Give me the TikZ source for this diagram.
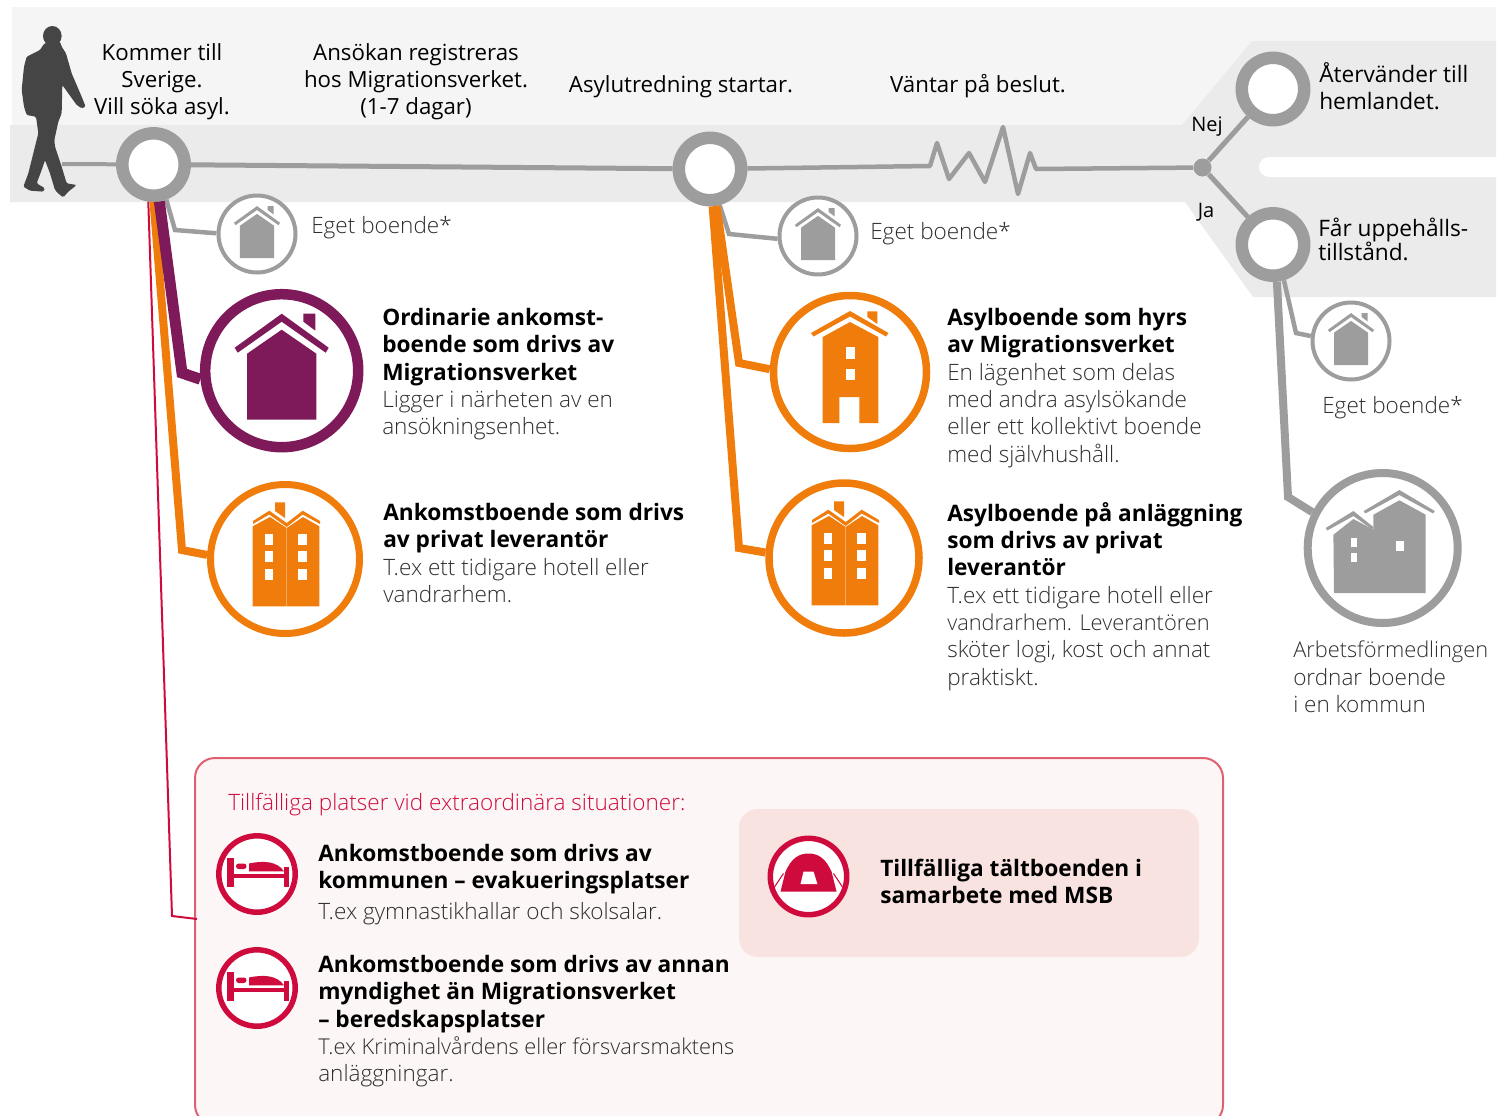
\documentclass[tikz,border=0pt]{standalone}
\usepackage{fontspec}
\setmainfont{Open Sans}
\newfontfamily\thinfont{Open Sans Light}
\usepackage{xcolor}
\definecolor{paleband}{HTML}{F5F5F5}
\definecolor{midband}{HTML}{EBEBEB}
\definecolor{linegray}{HTML}{9D9D9D}
\definecolor{mauve}{HTML}{7E1A5A}
\definecolor{tangerine}{HTML}{F07D0B}
\definecolor{alarmred}{HTML}{CF0A3C}
\definecolor{boxedge}{HTML}{E0606F}
\definecolor{boxfill}{HTML}{FDF6F6}
\definecolor{tentfill}{HTML}{F8E3E1}
\definecolor{walker}{HTML}{454545}
\newcommand{\headline}[1]{{\color{black}\normalfont\bfseries\fontsize{17}{20.5}\selectfont #1}}
\newcommand{\tightline}[1]{{\fontsize{16.35}{20.5}\selectfont #1}}
\tikzset{
  ring/.style n args={3}{circle,draw=#1,fill=white,inner sep=0pt,line width=#2*0.75pt,minimum size=#3*1.5pt},
  feed/.style n args={2}{draw=#1,line width=#2*0.75pt,line join=miter},
  steptext/.style={inner sep=0pt,align=center,text=black,font=\fontsize{16.7}{20.5}\selectfont,execute at begin node=\strut},
  leftstep/.style={steptext,align=left,anchor=north west,font=\fontsize{17}{20.5}\selectfont},
  bodytext/.style={inner sep=0pt,align=left,anchor=north west,text=black!82,font=\fontsize{16.9}{20.5}\selectfont\thinfont,execute at begin node=\strut},
  pics/houseicon/.style={code={
    \fill[#1] (-34.7,49) -- (-34.7,-17) -- (0,-41) -- (34.7,-17) -- (34.7,49) -- cycle;
    \fill[#1] (-47,-23) -- (0,-57) -- (47,-23) -- (44,-18) -- (0,-49) -- (-44,-18) -- cycle;
    \fill[#1] (21.7,-57) -- (33.7,-57) -- (33.7,-40) -- (21.7,-49) -- cycle;
  }},
  pics/towericon/.style={code={
    \fill[#1] (-27.3,51) -- (-27.3,-35) -- (0,-50) -- (28.3,-35) -- (28.3,51) -- (9.3,51) -- (9.3,25) -- (-10.7,25) -- (-10.7,51) -- cycle;
    \fill[#1] (-39,-39) -- (0,-61) -- (38.5,-39) -- (36,-35.5) -- (0,-55.5) -- (-36.5,-35.5) -- cycle;
    \fill[#1] (17.3,-60.7) -- (27.3,-60.7) -- (27.3,-48) -- (17.3,-55) -- cycle;
    \fill[white] (-4,-25) rectangle (4.7,-13.3);
    \fill[white] (-4,-3.3) rectangle (4.7,8.3);
  }},
  pics/twinicon/.style={code={
    \fill[#1] (-32.3,47.3) -- (-32.3,-32.7) -- (-15,-42) -- (1.7,-31) -- (18,-42) -- (34.3,-32.7) -- (34.3,47.3) -- cycle;
    \fill[#1] (-32,-38) -- (-15.7,-48.3) -- (1.7,-36) -- (17.7,-48.3) -- (35,-38) -- (35,-35) -- (17.7,-44.5) -- (1.7,-32) -- (-15.7,-44.5) -- (-32,-35) -- cycle;
    \fill[#1] (-10,-56.7) -- (0,-56.7) -- (0,-41) -- (-10,-48) -- cycle;
    \draw[white,opacity=0.35,line width=0.4pt] (1.7,-31) -- (1.7,47.3);
    \foreach \wy in {-25,-7.7,9.7}{
      \fill[white] (-20,\wy) rectangle (-11.7,\wy+11);
      \fill[white] (13.3,\wy) rectangle (21.7,\wy+11);
    }
  }},
  pics/blockicon/.style={code={
    \fill[#1] (-48.7,45) -- (-49.3,-13.3) -- (-29.3,-29) -- (-9.3,-18.3) -- (-9.3,-33.3) -- (16.7,-47.7) -- (43,-33.3) -- (43,45) -- cycle;
    \fill[#1] (-57,-20) -- (-29.3,-37) -- (-9.3,-21) -- (-10.5,-18.5) -- (-29.3,-32) -- (-55.5,-17.5) -- cycle;
    \fill[#1] (-19,-37) -- (16.7,-58) -- (52,-37) -- (50.5,-34.5) -- (16.7,-53) -- (-17.5,-34.5) -- cycle;
    \fill[white] (-31.7,-10.3) rectangle (-25.3,-1);
    \fill[white] (-31.7,5) rectangle (-25.3,14);
    \fill[white] (13,-7.3) rectangle (21,3.3);
  }},
  pics/bedicon/.style={code={
    \fill[#1] (-30,-16) rectangle (-23.3,13.3);
    \fill[#1] (27.3,-6.7) rectangle (31.7,13.3);
    \fill[#1] (-23.3,-0.5) rectangle (27.3,4);
    \fill[#1] (-8,-2.7) -- (-8,-10.5) .. controls (6,-13.5) and (20,-13) .. (27,-2.7) -- cycle;
    \fill[#1,rounded corners=2pt] (-21,-10.5) rectangle (-10.5,-5);
  }},
  pics/tenticon/.style={code={
    \fill[#1] (-28,15) -- (-23,-5) .. controls (-17,-18) and (-10,-23) .. (0,-23) .. controls (10,-23) and (17,-18) .. (23,-5) -- (28,15) -- cycle;
    \fill[white] (-8,7.7) -- (-5,-5) -- (5,-5) -- (9,7.7) -- cycle;
    \draw[#1,line width=0.8pt] (-35,12) -- (-25,-3);
    \draw[#1,line width=0.8pt] (35,12) -- (25,-3);
  }}
}
\begin{document}
\begin{tikzpicture}[line cap=butt,line join=round,x=0.75pt,y=-0.75pt]
  \useasboundingbox (0,0) rectangle (1506,1115);
  \clip (0,0) rectangle (1506,1115);
  % bands
  \fill[paleband] (12,7) rectangle (1496,125);
  \fill[midband] (10,125) -- (1182,125) -- (1252,41) -- (1496,41) -- (1496,297) -- (1253,297) -- (1185,202) -- (10,202) -- cycle;
  \fill[white,rounded corners=7.5pt] (1259,157) rectangle (1530,177);
  % walker
  \begin{scope}[scale=1/3]
    \fill[walker] (157,108) ellipse (28 and 30);
    \fill[walker,rounded corners=1pt] (133,130) -- (120,150) -- (80,170) -- (72,200) -- (65,270) -- (72,320) -- (80,345) -- (108,350) -- (115,400) -- (100,460) -- (85,520) -- (70,560) -- (90,572) -- (130,575) -- (135,565) -- (110,550) -- (125,510) -- (135,480) -- (150,520) -- (165,570) -- (180,585) -- (190,592) -- (205,575) -- (230,555) -- (200,550) -- (185,500) -- (165,440) -- (163,420) -- (175,365) -- (185,340) -- (187,255) -- (230,315) -- (245,325) -- (257,320) -- (245,290) -- (215,220) -- (198,160) -- (185,140) -- (180,125) -- cycle;
  \end{scope}
  % rings on the line
  \node[ring={linegray}{12.5}{31.2}] (arrive) at (153.5,164.5) {};
  \node[ring={linegray}{12.5}{31.2}] (inquiry) at (710,169) {};
  \node[ring={linegray}{12.5}{31.2}] (refused) at (1273,89) {};
  \node[ring={linegray}{12.5}{31.2}] (granted) at (1273,244.5) {};
  \node[circle,fill=linegray,inner sep=0pt,minimum size=13.5pt] (split) at (1202.5,167.5) {};
  \coordinate (walkerhip) at (62,164);
  \coordinate (zigstart) at (930,166);
  \coordinate (zigend) at (1036,169);
  \draw[feed={linegray}{4}] (walkerhip) -- (arrive);
  \draw[feed={linegray}{5}] (arrive) -- (inquiry);
  \draw[feed={linegray}{4.5},line join=round] (inquiry) -- (zigstart) -- (937,143) -- (949,179) -- (969,153) -- (985,182) -- (1003,127) -- (1018,194) -- (1030,153) -- (zigend) -- (split);
  \draw[feed={linegray}{5}] (split) -- (refused);
  \draw[feed={linegray}{5}] (split) -- (granted);
  % own housing
  \node[ring={linegray}{4}{38.5}] (ownone) at (257,234) {};
  \node[ring={linegray}{4}{38.5}] (owntwo) at (818,236) {};
  \node[ring={linegray}{4}{38.5}] (ownthree) at (1351,341) {};
  \foreach \home in {ownone,owntwo,ownthree}
    \pic[scale=0.49] at (\home) {houseicon=linegray};
  \coordinate (ownonebend) at (175,230);
  \coordinate (owntwobend) at (729,234);
  \coordinate (ownthreebend) at (1296,333);
  \draw[feed={linegray}{4.5}] (arrive.-70) -- (ownonebend) -- (ownone.179);
  \draw[feed={linegray}{4.5}] (inquiry.-75) -- (owntwobend) -- (owntwo.184);
  \draw[feed={linegray}{4.5}] (granted.-73) -- (ownthreebend) -- (ownthree.173);
  % big rings
  \node[ring={mauve}{10.5}{76.5}] (ordinary) at (281.7,370.7) {};
  \node[ring={tangerine}{7}{74.5}] (private) at (285,559) {};
  \node[ring={tangerine}{7.5}{76.5}] (rented) at (850,372) {};
  \node[ring={tangerine}{7.5}{75}] (facility) at (844,558) {};
  \node[ring={linegray}{8}{75}] (municipal) at (1382.7,548) {};
  \pic at (ordinary) {houseicon=mauve};
  \pic at (private) {twinicon=tangerine};
  \pic at (rented) {towericon=tangerine};
  \pic at (facility) {twinicon=tangerine};
  \pic at (municipal) {blockicon=linegray};
  \coordinate (privatebend) at (182,550);
  \coordinate (ordinarybend) at (182,373);
  \coordinate (facilitybend) at (739,548);
  \coordinate (rentedbend) at (739,363);
  \coordinate (municipalbend) at (1288,497);
  \coordinate (redbend) at (172,916);
  % red box
  \fill[boxfill,draw=boxedge,line width=1.5pt,rounded corners=15pt] (195,758) rectangle (1223,1125);
  \fill[tentfill,rounded corners=14pt] (739,809) rectangle (1199,957);
  \coordinate (redbox) at (197,919);
  \draw[feed={alarmred}{2}] (arrive.-98) -- (redbend) -- (redbox);
  \draw[feed={tangerine}{8}] (arrive.-90) -- (privatebend) -- (private.177);
  \draw[feed={mauve}{11}] (arrive.-81) -- (ordinarybend) -- (ordinary.186);
  \draw[feed={tangerine}{8}] (inquiry.-86) -- (facilitybend) -- (facility.176);
  \draw[feed={tangerine}{8}] (inquiry.-80) -- (rentedbend) -- (rented.178);
  \draw[feed={linegray}{8}] (granted.-84) -- (municipalbend) -- (municipal.153);
  % red icons
  \node[ring={alarmred}{5.5}{38.2}] (bedone) at (257,874) {};
  \node[ring={alarmred}{5.5}{38.2}] (bedtwo) at (257,988) {};
  \node[ring={alarmred}{5.5}{38.2}] (tent) at (808.5,876.5) {};
  \pic at (bedone) {bedicon=alarmred};
  \pic at (bedtwo) {bedicon=alarmred};
  \pic at (tent) {tenticon=alarmred};
  % steps
  \node[steptext,anchor=north] (stepone) at (162,43) {Kommer till\\Sverige.\\Vill söka asyl.};
  \node[steptext,anchor=north] (steptwo) at (416,43) {Ansökan registreras\\hos Migrationsverket.\\(1-7 dagar)};
  \node[steptext,anchor=north] (stepthree) at (681,73) {Asylutredning startar.};
  \node[steptext,anchor=north] (stepfour) at (978,73) {Väntar på beslut.};
  \node[leftstep] (stepback) at (1319,62) {Återvänder till\\hemlandet.};
  \node[leftstep,font=\fontsize{17}{18}\selectfont] (stepstay) at (1318,218) {Får uppehålls-\\tillstånd.};
  \node[steptext,font=\fontsize{15}{18}\selectfont] (nolabel) at (1207,127) {Nej};
  \node[steptext,font=\fontsize{15}{18}\selectfont] (yeslabel) at (1206,213) {Ja};
  % texts
  \node[bodytext] (ownonetext) at (311,214) {Eget boende*};
  \node[bodytext] (owntwotext) at (870,220) {Eget boende*};
  \node[bodytext] (ownthreetext) at (1322,394) {Eget boende*};
  \node[bodytext] (ordinarytext) at (382,308) {\headline{Ordinarie ankomst-}\\\headline{boende som drivs av}\\\headline{Migrationsverket}\\Ligger i närheten av en\\ansökningsenhet.};
  \node[bodytext] (privatetext) at (383,503) {\headline{Ankomstboende som drivs}\\\headline{av privat leverantör}\\T.ex ett tidigare hotell eller\\vandrarhem.};
  \node[bodytext] (rentedtext) at (947,308) {\headline{Asylboende som hyrs}\\\headline{av Migrationsverket}\\En lägenhet som delas\\med andra asylsökande\\eller ett kollektivt boende\\med självhushåll.};
  \node[bodytext] (facilitytext) at (947,502) {\headline{Asylboende på anläggning}\\\headline{som drivs av privat}\\\headline{leverantör}\\T.ex ett tidigare hotell eller\\\tightline{vandrarhem. Leverantören}\\sköter logi, kost och annat\\praktiskt.};
  \node[bodytext] (municipaltext) at (1293,641) {\tightline{Arbetsförmedlingen}\\ordnar boende\\i en kommun};
  \node[bodytext,text=alarmred] (boxhead) at (228,791) {Tillfälliga platser vid extraordinära situationer:};
  \node[bodytext] (bedonetext) at (318,844) {\headline{Ankomstboende som drivs av}\\\headline{kommunen – evakueringsplatser}\\[2.25pt]T.ex gymnastikhallar och skolsalar.};
  \node[bodytext] (bedtwotext) at (318,955) {\headline{Ankomstboende som drivs av annan}\\\headline{myndighet än Migrationsverket}\\\headline{– beredskapsplatser}\\\tightline{T.ex Kriminalvårdens eller försvarsmaktens}\\anläggningar.};
  \node[bodytext] (tenttext) at (880,859) {\headline{Tillfälliga tältboenden i}\\\headline{samarbete med MSB}};
\end{tikzpicture}
\end{document}
